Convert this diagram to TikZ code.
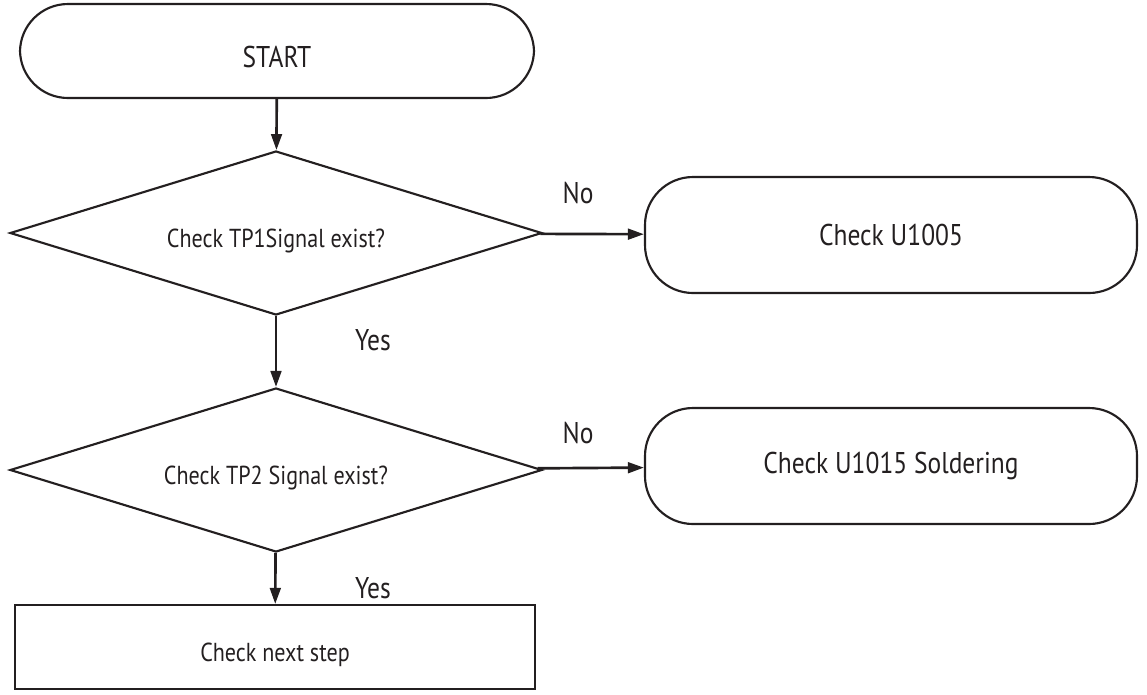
\documentclass[tikz,border=0pt]{standalone}
\usepackage{fontspec}
\setmainfont{PT Sans}[FakeStretch=0.85]
\usepackage{tikz}
\usetikzlibrary{arrows.meta, positioning, shapes.geometric}
\definecolor{inkblack}{RGB}{35,31,32}

\begin{document}
\begin{tikzpicture}[x=0.75pt, y=-0.75pt,
  term/.style={draw=inkblack, line width=1.6pt, rounded corners=36pt,
    minimum width=369pt, minimum height=87pt, align=center,
    font=\fontsize{22.5}{27}\selectfont, text=inkblack},
  decide/.style={draw=inkblack, line width=1.6pt, diamond, aspect=3.24,
    minimum width=399pt, minimum height=123pt, inner sep=0pt,
    text height=24pt, text depth=3pt,
    font=\fontsize{19.5}{23}\selectfont, text=inkblack},
  stepbox/.style={draw=inkblack, line width=1.6pt, minimum width=390pt,
    minimum height=63pt, text height=24pt, text depth=2pt,
    font=\fontsize{19.5}{23}\selectfont, text=inkblack},
  arr/.style={-{Triangle[length=12pt, width=8pt]}, line width=2pt, inkblack},
  lbl/.style={font=\fontsize{22.5}{27}\selectfont, text=inkblack}
]
  \useasboundingbox (0,0) rectangle (1147,694);

  \node[term, minimum width=385.5pt, minimum height=70.5pt,
    text height=26pt, text depth=2pt] (start) at (277,51) {START};
  \node[decide] (tp1) at (276,233) {Check TP1Signal exist?};
  \node[term] (u1005) at (891,235) {Check U1005};
  \node[decide] (tp2) at (276,470) {Check TP2 Signal exist?};
  \node[term] (u1015) at (891,466) {Check U1015 Soldering};
  \node[stepbox] (next) at (275,647) {Check next step};

  \draw[arr] (start) -- (tp1);
  \draw[arr] (tp1) -- (u1005);
  \draw[arr] (tp1) -- (tp2);
  \draw[arr] (tp2) -- (u1015);
  \draw[arr] (tp2) -- (next);

  % branch labels
  \node[lbl] (no1) at (578,193) {No};
  \node[lbl] (no2) at (578,433) {No};
  \node[lbl] (yes1) at (373,340) {Yes};
  \node[lbl] (yes2) at (373,588) {Yes};
\end{tikzpicture}
\end{document}
